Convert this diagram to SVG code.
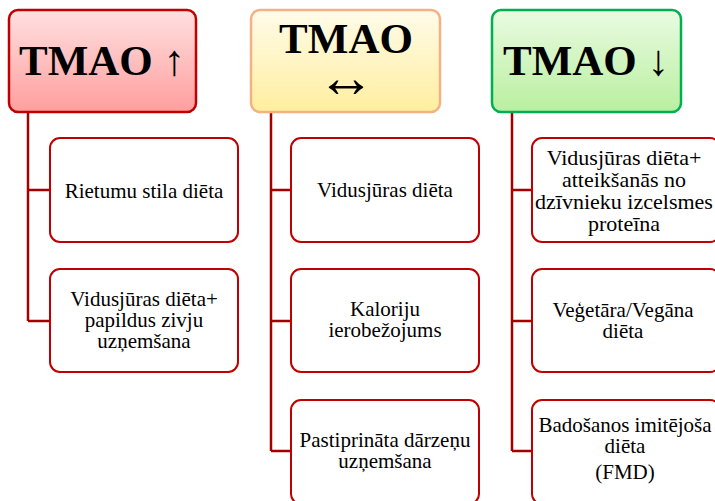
<svg xmlns="http://www.w3.org/2000/svg" width="715" height="501" viewBox="0 0 715 501">
<defs>
<linearGradient id="gRed" x1="0" y1="0" x2="0" y2="1"><stop offset="0" stop-color="#ffe0e0"/><stop offset="1" stop-color="#ff9e9e"/></linearGradient>
<linearGradient id="gYel" x1="0" y1="0" x2="0" y2="1"><stop offset="0" stop-color="#fffbea"/><stop offset="1" stop-color="#ffef9e"/></linearGradient>
<linearGradient id="gGrn" x1="0" y1="0" x2="0" y2="1"><stop offset="0" stop-color="#eafbe2"/><stop offset="1" stop-color="#b9ef9f"/></linearGradient>
</defs>
<style>
.hd{stroke-width:2.5}
.bx{fill:#ffffff;stroke:#c00000;stroke-width:2}
.ht{font-family:'Liberation Serif','Times New Roman',serif;font-weight:bold;font-size:43px;fill:#000;text-anchor:middle}
.t{font-family:'Liberation Serif','Times New Roman',serif;font-size:21px;fill:#000;text-anchor:middle}
.c{fill:none;stroke:#a50000;stroke-width:2.5}
</style>
<g id="connectors">
<path class="c" d="M28 112V321M28 190H50M28 321H50"/>
<path class="c" d="M271 112V451M271 190H291M271 321H291M271 451H291"/>
<path class="c" d="M512 112V451M512 190H532M512 321H532M512 451H532"/>
</g>
<g id="h1"><rect class="hd" x="9" y="10" width="187" height="102" rx="9" fill="url(#gRed)" stroke="#c00000"/><text class="ht" x="102" y="75">TMAO ↑</text></g>
<g id="h2"><rect class="hd" x="251" y="10" width="189" height="102" rx="9" fill="url(#gYel)" stroke="#f4b183"/><text class="ht" x="346" y="53">TMAO<tspan x="346" y="97" style="font-size:58px;font-weight:normal">↔</tspan></text></g>
<g id="h3"><rect class="hd" x="492" y="10" width="189" height="102" rx="9" fill="url(#gGrn)" stroke="#00b050"/><text class="ht" x="586" y="75">TMAO ↓</text></g>
<g id="b1a"><rect class="bx" x="50" y="138" width="188" height="104" rx="10"/><text class="t" x="144" y="198">Rietumu stila diēta</text></g>
<g id="b1b"><rect class="bx" x="50" y="269" width="188" height="103" rx="10"/><text class="t" x="144" y="306">Vidusjūras diēta+<tspan x="144" y="327">papildus zivju</tspan><tspan x="144" y="348">uzņemšana</tspan></text></g>
<g id="b2a"><rect class="bx" x="291" y="138" width="188" height="104" rx="10"/><text class="t" x="385" y="197">Vidusjūras diēta</text></g>
<g id="b2b"><rect class="bx" x="291" y="269" width="188" height="103" rx="10"/><text class="t" x="385" y="316">Kaloriju<tspan x="385" y="337">ierobežojums</tspan></text></g>
<g id="b2c"><rect class="bx" x="291" y="400" width="188" height="104" rx="10"/><text class="t" x="385" y="447">Pastiprināta dārzeņu<tspan x="385" y="468">uzņemšana</tspan></text></g>
<g id="b3a"><rect class="bx" x="532" y="138" width="188" height="104" rx="10"/><text class="t" style="font-size:22px" x="624" y="165">Vidusjūras diēta+<tspan x="624" y="187">atteikšanās no</tspan><tspan x="624" y="209">dzīvnieku izcelsmes</tspan><tspan x="624" y="231">proteīna</tspan></text></g>
<g id="b3b"><rect class="bx" x="532" y="269" width="188" height="103" rx="10"/><text class="t" x="623" y="317">Veģetāra/Vegāna<tspan x="623" y="338">diēta</tspan></text></g>
<g id="b3c"><rect class="bx" x="532" y="400" width="188" height="104" rx="10"/><text class="t" x="625" y="432">Badošanos imitējoša<tspan x="625" y="453">diēta</tspan><tspan x="625" y="479">(FMD)</tspan></text></g>
</svg>
